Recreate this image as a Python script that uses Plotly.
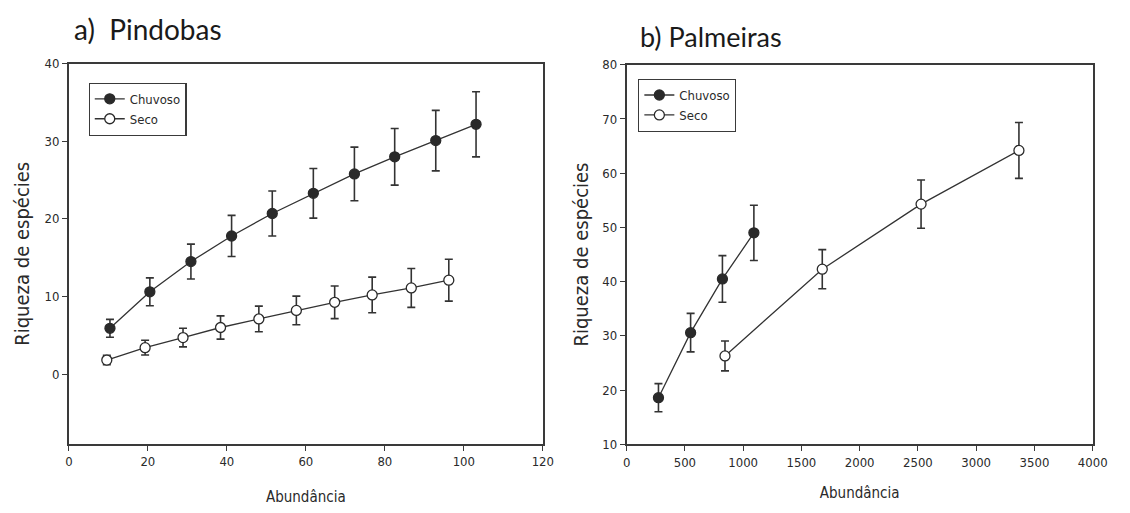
import plotly.graph_objects as go

# Pindobas: rarefaction (abundance vs species richness), rainy and dry season
pind_chuv_x = [10.4, 20.5, 30.9, 41.2, 51.5, 61.9, 72.3, 82.5, 92.9, 103.1]
pind_chuv_y = [5.9, 10.6, 14.5, 17.8, 20.7, 23.3, 25.8, 28.0, 30.1, 32.2]
pind_chuv_err = [1.15, 1.8, 2.25, 2.65, 2.9, 3.2, 3.45, 3.65, 3.9, 4.2]

pind_seco_x = [9.6, 19.3, 28.9, 38.4, 48.1, 57.6, 67.3, 76.8, 86.7, 96.2]
pind_seco_y = [1.8, 3.4, 4.7, 6.0, 7.1, 8.2, 9.25, 10.2, 11.1, 12.1]
pind_seco_err = [0.6, 0.95, 1.2, 1.5, 1.65, 1.85, 2.1, 2.3, 2.5, 2.7]

# Palmeiras
palm_chuv_x = [273, 549, 822, 1092]
palm_chuv_y = [18.6, 30.6, 40.5, 49.0]
palm_chuv_err = [2.6, 3.55, 4.3, 5.1]

palm_seco_x = [844, 1679, 2527, 3367]
palm_seco_y = [26.3, 42.3, 54.3, 64.2]
palm_seco_err = [2.75, 3.6, 4.45, 5.15]

pind_xticks = [0, 20, 40, 60, 80, 100, 120]
pind_yticks = [0, 10, 20, 30, 40]
palm_xticks = [0, 500, 1000, 1500, 2000, 2500, 3000, 3500, 4000]
palm_yticks = [10, 20, 30, 40, 50, 60, 70, 80]

INK = "#2a2a2a"
NARROW = "Liberation Sans Narrow, DejaVu Sans Condensed, Arial Narrow, Liberation Sans, Arial"
TICK_FONT = dict(family=NARROW, size=13, color=INK)
XLABEL_FONT = dict(family=NARROW, size=15, color=INK)
YLABEL_FONT = dict(family=NARROW, size=20, color=INK)


def series(x, y, err, name, filled, xa, ya, legend):
    return go.Scatter(
        x=x, y=y, name=name, mode="lines+markers",
        xaxis=xa, yaxis=ya, legend=legend, showlegend=True,
        line=dict(color="#333333", width=1.3),
        marker=dict(size=10, symbol="circle",
                    color=INK if filled else "white",
                    line=dict(color=INK, width=1.3)),
        error_y=dict(type="data", array=err, visible=True,
                     color="#333333", thickness=1.6, width=4),
    )


fig = go.Figure()
fig.add_trace(series(pind_chuv_x, pind_chuv_y, pind_chuv_err, "Chuvoso", True, "x", "y", "legend"))
fig.add_trace(series(pind_seco_x, pind_seco_y, pind_seco_err, "Seco", False, "x", "y", "legend"))
fig.add_trace(series(palm_chuv_x, palm_chuv_y, palm_chuv_err, "Chuvoso", True, "x2", "y2", "legend2"))
fig.add_trace(series(palm_seco_x, palm_seco_y, palm_seco_err, "Seco", False, "x2", "y2", "legend2"))

axis_common = dict(
    showgrid=False, zeroline=False, showline=True, linecolor="#3a3a3a", linewidth=1.6,
    mirror=True, ticks="outside", ticklen=5, tickwidth=1.3, tickcolor="#3a3a3a",
    tickfont=TICK_FONT,
)

W, H = 1130, 513

legend_style = dict(
    xanchor="left", yanchor="top",
    bordercolor="#3a3a3a", borderwidth=1.2, bgcolor="white",
    font=dict(family=NARROW, size=13, color=INK),
    tracegroupgap=0, itemwidth=30,
    entrywidth=66, entrywidthmode="pixels",
)

fig.update_layout(
    width=W, height=H,
    margin=dict(l=0, r=0, t=0, b=0),
    paper_bgcolor="white", plot_bgcolor="white",
    xaxis=dict(axis_common, domain=[66 / W, 548 / W], range=[0, 120], tickvals=pind_xticks,
               anchor="y", title=dict(text="Abundância", font=XLABEL_FONT, standoff=23)),
    yaxis=dict(axis_common, domain=[1 - 450 / H, 1 - 58.5 / H], range=[-9, 40], tickvals=pind_yticks,
               anchor="x", title=dict(text="Riqueza de espécies", font=YLABEL_FONT, standoff=10)),
    xaxis2=dict(axis_common, domain=[633.3 / W, 1107.3 / W], range=[0, 4000], tickvals=palm_xticks,
                anchor="y2", title=dict(text="Abundância", font=XLABEL_FONT, standoff=19)),
    yaxis2=dict(axis_common, domain=[1 - 450.5 / H, 1 - 59.5 / H], range=[10, 80], tickvals=palm_yticks,
                anchor="x2", title=dict(text="Riqueza de espécies", font=YLABEL_FONT, standoff=8)),
    legend=dict(legend_style, x=86 / W, y=1 - 78 / H),
    legend2=dict(legend_style, x=645 / W, y=1 - 74 / H),
    annotations=[
        dict(text="a)  Pindobas", x=69 / W, y=1 - 3 / H, xref="paper", yref="paper",
             xanchor="left", yanchor="top", showarrow=False,
             font=dict(family="Lato, Open Sans, sans-serif", size=28, color="#1a1a1a")),
        dict(text="b) Palmeiras", x=645 / W, y=1 - 11 / H, xref="paper", yref="paper",
             xanchor="left", yanchor="top", showarrow=False,
             font=dict(family="Lato, Open Sans, sans-serif", size=27, color="#1a1a1a")),
    ],
)

fig.write_html("out.html")
